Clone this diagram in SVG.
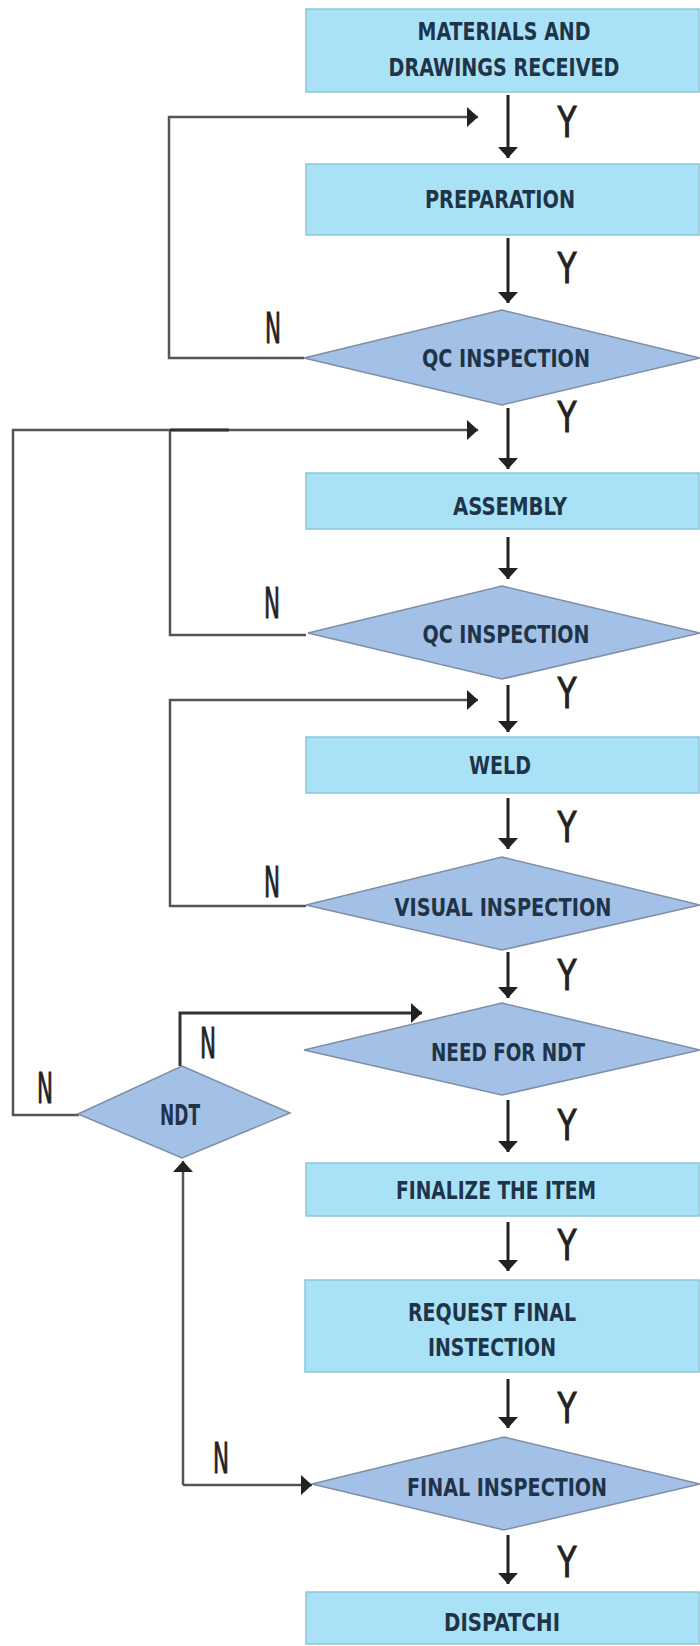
<svg xmlns="http://www.w3.org/2000/svg" width="700" height="1646" viewBox="0 0 700 1646">
<style>
.box{fill:#a9e2f6;stroke:#8cc6dc;stroke-width:1.5}
.dia{fill:#a3c1e7;stroke:#7f8ea6;stroke-width:1.5}
.lbl{font-family:"Liberation Sans Narrow","DejaVu Sans Condensed","Liberation Sans",sans-serif;font-size:25px;font-weight:bold;fill:#1f3448;text-anchor:middle}
.yn{font-family:"Liberation Sans Narrow","DejaVu Sans Condensed","Liberation Sans",sans-serif;font-size:43px;fill:#222;stroke:#222;stroke-width:0.9;text-anchor:middle}
.flow{fill:none;stroke:#222;stroke-width:3}
.ret{fill:none;stroke:#555;stroke-width:2.5}
.retd{fill:none;stroke:#333;stroke-width:3}
</style>
<defs>
<marker id="ah" viewBox="0 0 11 20" refX="11" refY="10" markerWidth="11" markerHeight="20" markerUnits="userSpaceOnUse" orient="auto">
<path d="M0,0 L11,10 L0,20 Z" fill="#222"/>
</marker>
</defs>
<rect width="700" height="1646" fill="#ffffff"/>

<g id="connectors">
<path class="flow" marker-end="url(#ah)" d="M508,95 V158"/>
<path class="flow" marker-end="url(#ah)" d="M508,238 V303"/>
<path class="flow" marker-end="url(#ah)" d="M508,408 V469"/>
<path class="flow" marker-end="url(#ah)" d="M508,537 V579"/>
<path class="flow" marker-end="url(#ah)" d="M508,685 V732"/>
<path class="flow" marker-end="url(#ah)" d="M508,798 V849"/>
<path class="flow" marker-end="url(#ah)" d="M508,952 V998"/>
<path class="flow" marker-end="url(#ah)" d="M508,1100 V1152"/>
<path class="flow" marker-end="url(#ah)" d="M508,1222 V1271"/>
<path class="flow" marker-end="url(#ah)" d="M508,1379 V1428"/>
<path class="flow" marker-end="url(#ah)" d="M508,1535 V1584"/>
<path class="ret" marker-end="url(#ah)" d="M304,358 H169 V117 H478"/>
<path class="ret" d="M306,635 H170 V430"/>
<path class="ret" marker-end="url(#ah)" d="M79,1115 H13 V430 H478"/>
<path class="retd" d="M170,430 H229"/>
<path class="ret" marker-end="url(#ah)" d="M306,906 H170 V700 H478"/>
<path class="retd" marker-end="url(#ah)" d="M180,1066 V1013 H422"/>
<path class="ret" marker-end="url(#ah)" d="M183,1485 V1161"/>
<path class="ret" marker-end="url(#ah)" d="M183,1485 H312"/>
<g id="edge-labels">
<text class="yn" x="567" y="137" textLength="19" lengthAdjust="spacingAndGlyphs">Y</text>
<text class="yn" x="567" y="283" textLength="19" lengthAdjust="spacingAndGlyphs">Y</text>
<text class="yn" x="567" y="432" textLength="19" lengthAdjust="spacingAndGlyphs">Y</text>
<text class="yn" x="567" y="708" textLength="19" lengthAdjust="spacingAndGlyphs">Y</text>
<text class="yn" x="567" y="842" textLength="19" lengthAdjust="spacingAndGlyphs">Y</text>
<text class="yn" x="567" y="990" textLength="19" lengthAdjust="spacingAndGlyphs">Y</text>
<text class="yn" x="567" y="1140" textLength="19" lengthAdjust="spacingAndGlyphs">Y</text>
<text class="yn" x="567" y="1260" textLength="19" lengthAdjust="spacingAndGlyphs">Y</text>
<text class="yn" x="567" y="1423" textLength="19" lengthAdjust="spacingAndGlyphs">Y</text>
<text class="yn" x="567" y="1577" textLength="19" lengthAdjust="spacingAndGlyphs">Y</text>
<text class="yn" x="273" y="343" textLength="16" lengthAdjust="spacingAndGlyphs">N</text>
<text class="yn" x="272" y="618" textLength="16" lengthAdjust="spacingAndGlyphs">N</text>
<text class="yn" x="272" y="897" textLength="16" lengthAdjust="spacingAndGlyphs">N</text>
<text class="yn" x="208" y="1058" textLength="16" lengthAdjust="spacingAndGlyphs">N</text>
<text class="yn" x="45" y="1103" textLength="16" lengthAdjust="spacingAndGlyphs">N</text>
<text class="yn" x="221" y="1473" textLength="16" lengthAdjust="spacingAndGlyphs">N</text>
</g>
</g>

<g id="n-materials">
<rect class="box" x="306" y="9" width="393" height="83"/>
<text class="lbl" x="504" y="40" textLength="173" lengthAdjust="spacingAndGlyphs">MATERIALS AND</text>
<text class="lbl" x="504" y="76" textLength="231" lengthAdjust="spacingAndGlyphs">DRAWINGS RECEIVED</text>
</g>
<g id="n-preparation">
<rect class="box" x="306" y="164" width="393" height="71"/>
<text class="lbl" x="500" y="208" textLength="150" lengthAdjust="spacingAndGlyphs">PREPARATION</text>
</g>
<g id="n-qc1">
<polygon class="dia" points="502,310 700,358 502,405 304,358"/>
<text class="lbl" x="506" y="367" textLength="168" lengthAdjust="spacingAndGlyphs">QC INSPECTION</text>
</g>
<g id="n-assembly">
<rect class="box" x="306" y="473" width="393" height="56"/>
<text class="lbl" x="510" y="515" textLength="114" lengthAdjust="spacingAndGlyphs">ASSEMBLY</text>
</g>
<g id="n-qc2">
<polygon class="dia" points="502,586 700,633 502,679 308,633"/>
<text class="lbl" x="506" y="643" textLength="167" lengthAdjust="spacingAndGlyphs">QC INSPECTION</text>
</g>
<g id="n-weld">
<rect class="box" x="306" y="737" width="393" height="56"/>
<text class="lbl" x="500" y="774" textLength="62" lengthAdjust="spacingAndGlyphs">WELD</text>
</g>
<g id="n-visual">
<polygon class="dia" points="502,857 700,905 502,950 306,905"/>
<text class="lbl" x="503" y="916" textLength="217" lengthAdjust="spacingAndGlyphs">VISUAL INSPECTION</text>
</g>
<g id="n-needndt">
<polygon class="dia" points="502,1003 700,1050 502,1095 304,1050"/>
<text class="lbl" x="508" y="1061" textLength="154" lengthAdjust="spacingAndGlyphs">NEED FOR NDT</text>
</g>
<g id="n-ndt">
<polygon class="dia" points="182,1066 290,1113 182,1158 78,1114"/>
<text class="lbl" x="180" y="1125" textLength="40" lengthAdjust="spacingAndGlyphs" style="font-size:29px">NDT</text>
</g>
<g id="n-finalize">
<rect class="box" x="306" y="1163" width="393" height="53"/>
<text class="lbl" x="496" y="1199" textLength="200" lengthAdjust="spacingAndGlyphs">FINALIZE THE ITEM</text>
</g>
<g id="n-request">
<rect class="box" x="305" y="1280" width="394" height="92"/>
<text class="lbl" x="492" y="1321" textLength="168" lengthAdjust="spacingAndGlyphs">REQUEST FINAL</text>
<text class="lbl" x="492" y="1356" textLength="128" lengthAdjust="spacingAndGlyphs">INSTECTION</text>
</g>
<g id="n-final">
<polygon class="dia" points="504,1437 700,1484 504,1530 312,1484"/>
<text class="lbl" x="507" y="1496" textLength="200" lengthAdjust="spacingAndGlyphs">FINAL INSPECTION</text>
</g>
<g id="n-dispatch">
<rect class="box" x="306" y="1592" width="393" height="52"/>
<text class="lbl" x="502" y="1631" textLength="116" lengthAdjust="spacingAndGlyphs">DISPATCHI</text>
</g>
</svg>
